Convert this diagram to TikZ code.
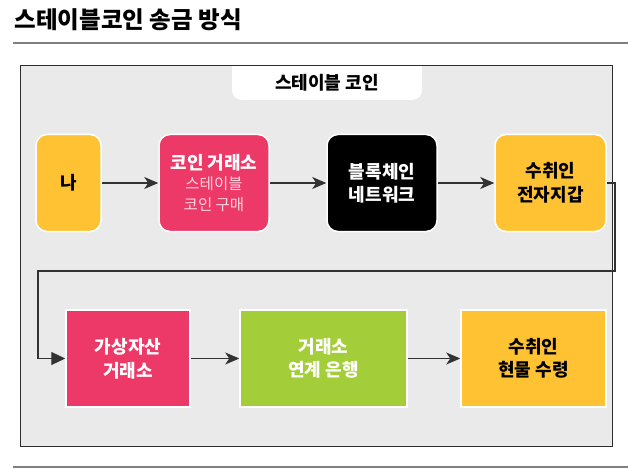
\documentclass[tikz,border=0pt]{standalone}
\usepackage{fontspec}
\setmainfont{Noto Sans CJK KR}
\usetikzlibrary{arrows.meta,positioning}
\definecolor{CoinYellow}{RGB}{255,194,51}
\definecolor{CoinPink}{RGB}{237,57,103}
\definecolor{CoinGreen}{RGB}{163,206,57}
\definecolor{SubPink}{RGB}{255,214,226}
\definecolor{PanelGray}{RGB}{234,234,234}
\definecolor{FrameDark}{RGB}{45,45,45}
\definecolor{RuleGray}{RGB}{128,128,128}
\definecolor{LineDark}{RGB}{50,50,50}

\begin{document}
\begin{tikzpicture}[x=1pt,y=-1pt,
    boxtext/.style={font=\fontsize{18}{23.5}\selectfont\bfseries,align=center},
    roundbox/.style={boxtext,draw=white,line width=1.5pt,rounded corners=11pt,
      minimum height=97pt,inner sep=0pt},
    squarebox/.style={boxtext,draw=white,line width=1.5pt,
      minimum height=97pt,inner sep=0pt},
    flowarrow/.style={draw=LineDark,line width=1.1pt,
      -{Stealth[length=14pt,width=12pt,inset=4pt]}}]
  \useasboundingbox (0,0) rectangle (628,470);
  % title and rules
  \node[anchor=west,inner sep=0pt,font=\fontsize{23.5}{28}\selectfont\bfseries]
    (title) at (14.5,20) {스테이블코인 송금 방식};
  \draw[RuleGray,line width=2pt] (13,43.5) -- (628,43.5);
  \draw[RuleGray,line width=2pt] (13,467) -- (628,467);
  % panel
  \fill[PanelGray] (20,66) rectangle (612,446);
  \fill[white,rounded corners=10pt] (232,50) -- (232,100) -- (422,100) -- (422,50) -- cycle;
  \draw[FrameDark,line width=1pt] (20,66) rectangle (612,446);
  \node[font=\fontsize{18}{20}\selectfont\bfseries] (tab) at (327,83) {스테이블 코인};
  % upper row
  \node[roundbox,fill=CoinYellow,minimum width=65pt] (me) at (68.5,183) {나};
  \node[roundbox,fill=CoinPink,text=white,minimum width=110pt] (coinex) at (214,183)
    {코인 거래소\\[-3pt]{\fontsize{15.5}{20}\selectfont\mdseries\color{SubPink}스테이블}\\[-3pt]
     {\fontsize{15.5}{20}\selectfont\mdseries\color{SubPink}코인 구매}};
  \node[roundbox,fill=black,text=white,minimum width=110pt] (chain) at (382,183) {블록체인\\네트워크};
  \node[roundbox,fill=CoinYellow,minimum width=111pt] (wallet) at (550.5,183) {수취인\\전자지갑};
  % lower row
  \node[squarebox,fill=CoinPink,text=white,minimum width=124pt] (vasp) at (128,358.5) {가상자산\\거래소};
  \node[squarebox,fill=CoinGreen,text=white,minimum width=167pt] (bank) at (323.5,358.5) {거래소\\연계 은행};
  \node[squarebox,fill=CoinYellow,minimum width=145pt] (cash) at (533.5,358.5) {수취인\\현물 수령};
  % connectors
  \coordinate (turnR) at (615,271);
  \coordinate (turnL) at (38,271);
  \draw[flowarrow] (me) -- (coinex);
  \draw[flowarrow] (coinex) -- (chain);
  \draw[flowarrow] (chain) -- (wallet);
  \draw[LineDark,line width=1.1pt,-{Triangle[length=14pt,width=13pt]}]
    (wallet.east) -| (turnR) -- (turnL) |- (vasp.west);
  \draw[flowarrow] (vasp) -- (bank);
  \draw[flowarrow] (bank) -- (cash);
\end{tikzpicture}
\end{document}
